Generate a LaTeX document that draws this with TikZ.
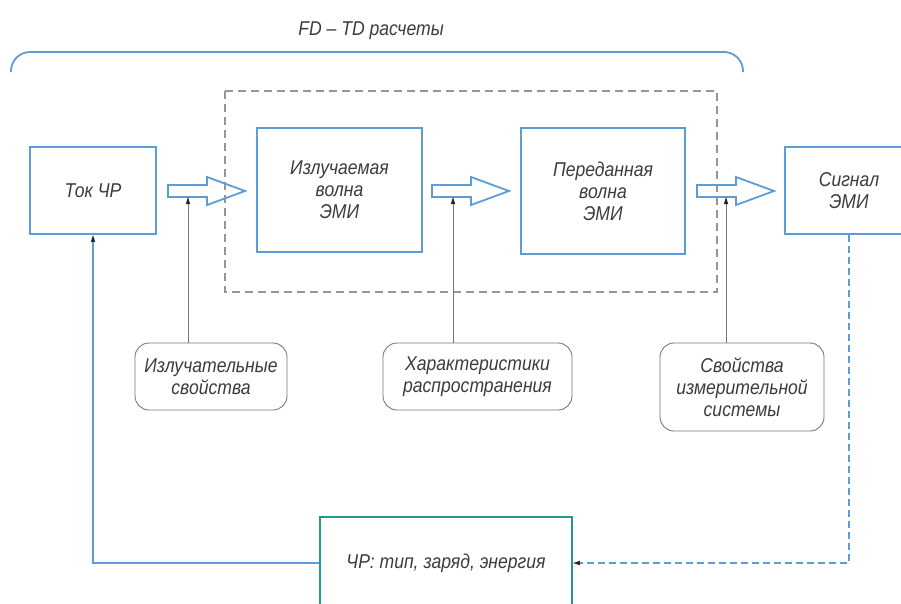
\documentclass[tikz,border=0pt]{standalone}
\usepackage{fontspec}
\setmainfont{Liberation Sans}[FakeStretch=0.88]
\usetikzlibrary{arrows.meta}

\definecolor{boxblue}{RGB}{92,157,214}
\definecolor{teal2}{RGB}{38,150,148}
\definecolor{inkgray}{RGB}{60,60,60}
\definecolor{linegray}{RGB}{120,120,120}
\definecolor{dashgray}{RGB}{150,150,150}

\tikzset{
  lbl/.style={font=\fontsize{20}{22}\selectfont\itshape, text=inkgray, align=center},
  bluebox/.style={lbl, draw=boxblue, line width=1.8pt, inner sep=0pt},
  propbox/.style={lbl, draw=linegray, line width=0.9pt, rounded corners=14pt, inner sep=0pt},
  hollowarrow/.style={draw=boxblue, line width=1.8pt, line join=miter},
  feed/.style={line width=1.3pt, -{Triangle[length=7pt,width=4pt,color=black!85]}},
  inflow/.style={draw=linegray, line width=0.9pt, -{Triangle[length=7pt,width=4pt,color=black!85]}},
}

\begin{document}
\begin{tikzpicture}[x=1pt,y=-1pt]
\useasboundingbox (0,0) rectangle (901,603);

% title and bracket over the computational chain
\node[lbl] (title) at (371,31) {FD -- TD расчеты};
\draw[draw=boxblue, line width=1.8pt, rounded corners=19pt]
  (11,72) -- (11,52) -- (743,52) -- (743,72);

% dashed frame around the wave blocks
\draw[draw=dashgray, line width=1.3pt, dash pattern=on 8pt off 5pt]
  (225,91) rectangle (717,292);

% main blocks
\node[bluebox, minimum width=126pt, minimum height=87pt] (tok) at (93,190.5) {Ток ЧР};
\node[bluebox, minimum width=165pt, minimum height=124pt] (izl) at (339.5,190) {Излучаемая\\волна\\ЭМИ};
\node[bluebox, minimum width=164pt, minimum height=126pt] (per) at (603,191) {Переданная\\волна\\ЭМИ};
\node[bluebox, minimum width=128pt, minimum height=87pt] (sig) at (849,190.5) {Сигнал\\ЭМИ};
\node[lbl, draw=teal2, line width=1.8pt, minimum width=252pt, minimum height=92pt, inner sep=0pt] (chr) at (446,563) {ЧР: тип, заряд, энергия};

% property blocks
\node[propbox, minimum width=152pt, minimum height=67pt] (p1) at (211,376.5) {Излучательные\\свойства};
\node[propbox, minimum width=189pt, minimum height=67pt] (p2) at (477.5,376.5) {Характеристики\\распространения};
\node[propbox, minimum width=164pt, minimum height=88pt] (p3) at (742,387) {Свойства\\измерительной\\системы};

% hollow block arrows between stages
\foreach \x/\n in {168/a, 432/b, 697/c}{
  \draw[hollowarrow] (\x,185) -- (\x+39,185) -- (\x+39,177) -- (\x+77,191)
    -- (\x+39,205) -- (\x+39,197) -- (\x,197) -- cycle;
}
\coordinate (ha) at (188,197);
\coordinate (hb) at (453,197);
\coordinate (hc) at (726,197);

% property inputs acting on each transfer
\draw[inflow] (ha |- p1.north) -- (ha);
\draw[inflow] (hb |- p2.north) -- (hb);
\draw[inflow] (hc |- p3.north) -- (hc);

% feedback loops
\draw[feed, draw=boxblue] (chr.west) -| (tok.south);
\draw[feed, draw=boxblue, dash pattern=on 7pt off 4pt] (sig.south) |- (chr.east);
\end{tikzpicture}
\end{document}
